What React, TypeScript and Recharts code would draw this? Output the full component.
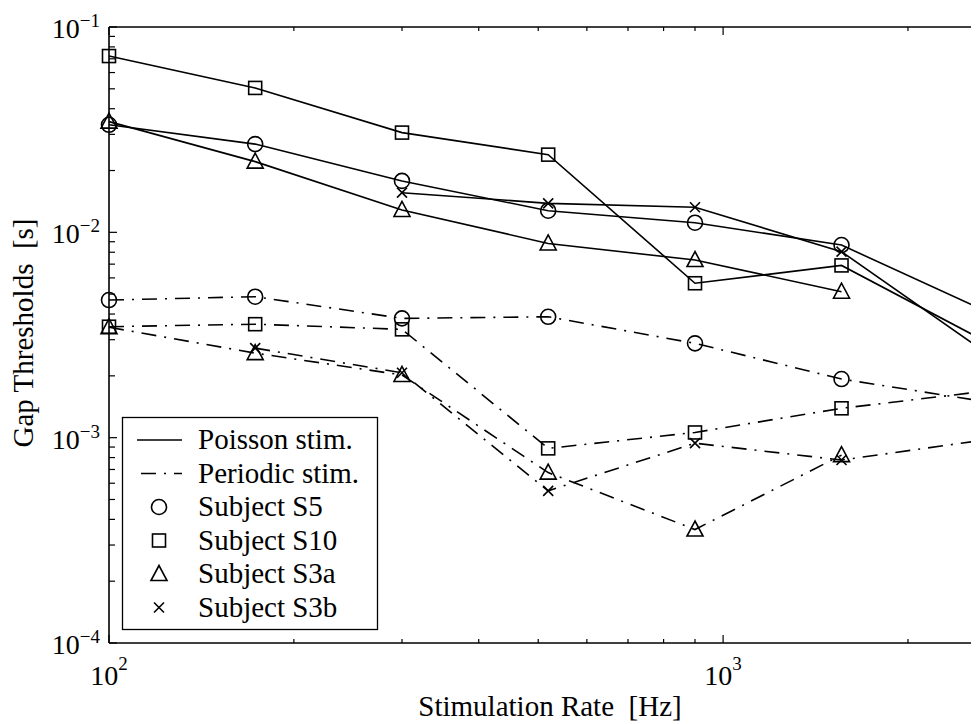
import React from 'react';
import { LineChart, Line, XAxis, YAxis, ReferenceLine, Legend } from 'recharts';

// Stimulation rates [Hz]
const rates = [100, 173, 300, 519, 900, 1559, 2700];

// Poisson stimulation (solid lines), gap thresholds [s]
const poissonS5 = [0.0334, 0.0269, 0.0178, 0.01274, 0.01114, 0.00867, 0.00408];
const poissonS10 = [0.0722, 0.0505, 0.0306, 0.0239, 0.00565, 0.0069, 0.0029];
const poissonS3a = [0.0346, 0.0221, 0.01285, 0.00883, 0.00733, 0.00514, null];
const poissonS3b = [null, null, 0.0156, 0.01384, 0.01324, 0.00805, 0.00255];

// Periodic stimulation (dash-dot lines), gap thresholds [s]
const periodicS5 = [0.00468, 0.00486, 0.00381, 0.00388, 0.00288, 0.00193, 0.00149];
const periodicS10 = [0.00347, 0.00357, 0.00337, 0.000887, 0.00106, 0.00139, 0.00169];
const periodicS3a = [0.00345, 0.00258, 0.00202, 0.000676, 0.000357, 0.000822, null];
const periodicS3b = [null, 0.00273, 0.00207, 0.000551, 0.00094, 0.000778, 0.00098];

// Axis ticks
const xTicks = [100, 200, 300, 400, 500, 600, 700, 800, 900, 1000, 2000];
const yDecades = [1e-4, 1e-3, 1e-2];
const yMinorMultipliers = [1, 2, 3, 4, 5, 6, 7, 8, 9];
const yTicks = [...yDecades.flatMap((d) => yMinorMultipliers.map((m) => m * d)), 1e-1];

const xDomain = [100, 2700];
const yDomain = [1e-4, 1e-1];

const legendRows = [
  { label: 'Poisson stim.', kind: 'solid' },
  { label: 'Periodic stim.', kind: 'dashdot' },
  { label: 'Subject S5', kind: 'circle' },
  { label: 'Subject S10', kind: 'square' },
  { label: 'Subject S3a', kind: 'triangle' },
  { label: 'Subject S3b', kind: 'cross' },
];

const FONT = "'Liberation Serif', 'Times New Roman', Times, serif";
const CHART_W = 1000;
const CHART_H = 716;
const PLOT_TOP = 19;
const Y_AXIS_W = 101;
const X_AXIS_H = 81;
const DASHDOT = '15 8 2 8';
const SW = 1.6;

const toPts = (vals: (number | null)[]) =>
  rates.map((x, i) => ({ x, y: vals[i] })).filter((p) => p.y != null);

const isMajor = (v: number) => Math.abs(Math.log10(v) - Math.round(Math.log10(v))) < 1e-6;
const expOf = (v: number) => Math.round(Math.log10(v));

function Marker({ shape, cx, cy }: { shape: string; cx: number; cy: number }) {
  const common = { fill: 'none', stroke: '#000', strokeWidth: SW };
  if (shape === 'circle') return <circle cx={cx} cy={cy} r={7.5} {...common} />;
  if (shape === 'square') return <rect x={cx - 6.5} y={cy - 6.5} width={13} height={13} {...common} />;
  if (shape === 'triangle')
    return (
      <polygon
        points={`${cx},${cy - 8.5} ${cx - 8},${cy + 6.5} ${cx + 8},${cy + 6.5}`}
        {...common}
        strokeLinejoin="miter"
      />
    );
  return (
    <g {...common}>
      <line x1={cx - 5} y1={cy - 5} x2={cx + 5} y2={cy + 5} />
      <line x1={cx - 5} y1={cy + 5} x2={cx + 5} y2={cy - 5} />
    </g>
  );
}

const makeDot = (shape: string) => (props: any) => {
  const { cx, cy, index } = props;
  if (cx == null || cy == null || isNaN(cx) || isNaN(cy)) return <g key={`d${index}`} />;
  return <Marker key={`d${index}`} shape={shape} cx={cx} cy={cy} />;
};

function XTick(props: any) {
  const { x, y, payload } = props;
  const v = payload.value as number;
  const major = isMajor(v);
  const len = major ? 8 : 4;
  return (
    <g>
      <line x1={x} y1={y} x2={x} y2={y - len} stroke="#000" strokeWidth={1.2} />
      <line x1={x} y1={PLOT_TOP} x2={x} y2={PLOT_TOP + len} stroke="#000" strokeWidth={1.2} />
      {major && (
        <text x={x} y={y + 42} textAnchor="middle" fontFamily={FONT} fontSize={28} fill="#000">
          10
          <tspan dy={-15} fontSize={19}>
            {expOf(v)}
          </tspan>
        </text>
      )}
    </g>
  );
}

function YTick(props: any) {
  const { x, y, payload } = props;
  const v = payload.value as number;
  const major = isMajor(v);
  const len = major ? 8 : 6;
  return (
    <g>
      <line x1={x} y1={y} x2={x + len} y2={y} stroke="#000" strokeWidth={1.2} />
      {major && (
        <text x={x - 9} y={y + 11} textAnchor="end" fontFamily={FONT} fontSize={28} fill="#000">
          10
          <tspan dy={-11} fontSize={19}>
            {'\u2212' + Math.abs(expOf(v))}
          </tspan>
        </text>
      )}
    </g>
  );
}

function LegendBox() {
  const W = 256;
  const H = 213;
  const rowY = (i: number) => 23 + i * 33.5;
  return (
    <svg width={W} height={H} style={{ display: 'block', overflow: 'visible' }}>
      <rect x={0.5} y={0.5} width={W - 1} height={H - 1} fill="#fff" stroke="#000" strokeWidth={1.3} />
      {legendRows.map((r, i) => {
        const cy = rowY(i);
        let sample: React.ReactNode = null;
        if (r.kind === 'solid')
          sample = <line x1={15} y1={cy} x2={60} y2={cy} stroke="#000" strokeWidth={SW} />;
        else if (r.kind === 'dashdot')
          sample = (
            <line x1={15} y1={cy} x2={60} y2={cy} stroke="#000" strokeWidth={SW} strokeDasharray={DASHDOT} strokeDashoffset={-4} />
          );
        else sample = <Marker shape={r.kind} cx={37} cy={cy} />;
        return (
          <g key={r.label}>
            {sample}
            <text x={76} y={cy + 9} fontFamily={FONT} fontSize={29} fill="#000">
              {r.label}
            </text>
          </g>
        );
      })}
    </svg>
  );
}

const series = [
  { id: 'pS5', vals: poissonS5, shape: 'circle', dash: undefined },
  { id: 'pS10', vals: poissonS10, shape: 'square', dash: undefined },
  { id: 'pS3a', vals: poissonS3a, shape: 'triangle', dash: undefined },
  { id: 'pS3b', vals: poissonS3b, shape: 'cross', dash: undefined },
  { id: 'qS5', vals: periodicS5, shape: 'circle', dash: DASHDOT },
  { id: 'qS10', vals: periodicS10, shape: 'square', dash: DASHDOT },
  { id: 'qS3a', vals: periodicS3a, shape: 'triangle', dash: DASHDOT },
  { id: 'qS3b', vals: periodicS3b, shape: 'cross', dash: DASHDOT },
];

export default function App() {
  return (
    <div style={{ width: 971, height: 716, overflow: 'hidden', background: '#fff' }}>
      <LineChart
        width={CHART_W}
        height={CHART_H}
        margin={{ top: PLOT_TOP, right: 20, bottom: 0, left: 0 }}
        style={{ overflow: 'visible' }}
      >
        <XAxis
          dataKey="x"
          type="number"
          scale="log"
          domain={xDomain}
          ticks={xTicks}
          interval={0}
          tickSize={0}
          tickMargin={0}
          tickLine={false}
          tick={<XTick />}
          height={X_AXIS_H}
          axisLine={{ stroke: '#000', strokeWidth: SW }}
          label={{
            content: () => (
              <text
                x={542}
                y={708}
                textAnchor="middle"
                fontFamily={FONT}
                fontSize={29}
                fill="#000"
                xmlSpace="preserve"
                style={{ whiteSpace: 'pre' }}
              >
                {'Stimulation Rate  [Hz]'}
              </text>
            ),
          }}
        />
        <YAxis
          dataKey="y"
          type="number"
          scale="log"
          domain={yDomain}
          ticks={yTicks}
          interval={0}
          tickSize={0}
          tickMargin={0}
          tickLine={false}
          tick={<YTick />}
          width={Y_AXIS_W}
          axisLine={{ stroke: '#000', strokeWidth: SW }}
          label={{
            content: () => (
              <text
                transform="translate(25, 325) rotate(-90)"
                textAnchor="middle"
                fontFamily={FONT}
                fontSize={29}
                fill="#000"
                xmlSpace="preserve"
                style={{ whiteSpace: 'pre' }}
              >
                {'Gap Thresholds  [s]'}
              </text>
            ),
          }}
        />
        <ReferenceLine y={yDomain[1]} stroke="#000" strokeWidth={SW} />
        <ReferenceLine x={xDomain[1]} stroke="#000" strokeWidth={SW} />
        {series.map((s) => (
          <Line
            key={s.id}
            data={toPts(s.vals)}
            dataKey="y"
            type="linear"
            stroke="#000"
            strokeWidth={SW}
            strokeDasharray={s.dash}
            dot={makeDot(s.shape)}
            activeDot={false}
            legendType="none"
            isAnimationActive={false}
          />
        ))}
        <Legend
          layout="vertical"
          align="center"
          verticalAlign="middle"
          content={() => <LegendBox />}
          wrapperStyle={{ position: 'absolute', left: 114, top: 409, width: 256, height: 213 }}
        />
      </LineChart>
    </div>
  );
}
